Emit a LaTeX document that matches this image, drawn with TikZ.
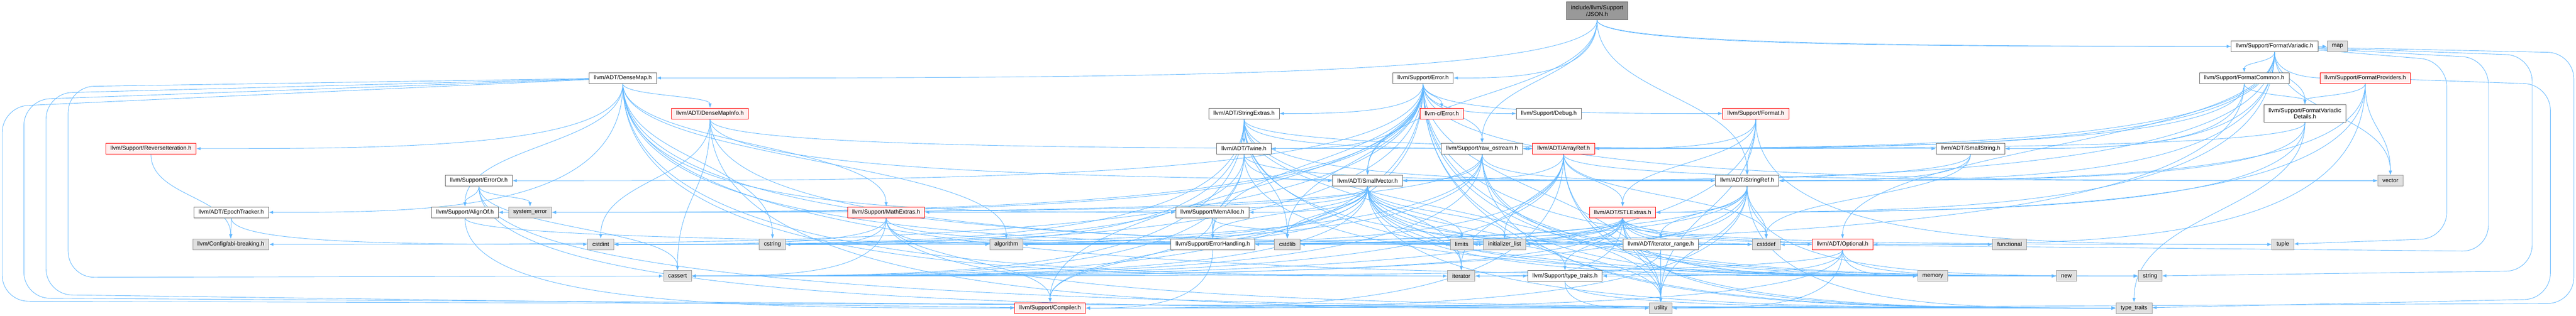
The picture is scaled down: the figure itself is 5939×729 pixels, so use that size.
\documentclass[tikz,border=0pt]{standalone}
\usepackage{fontspec}
\setmainfont{Liberation Sans}
\usepackage{tikz}
\usetikzlibrary{arrows.meta,calc,backgrounds}

\definecolor{edgeblue}{HTML}{63B8FF}
\definecolor{framegray}{HTML}{666666}
\definecolor{sysfill}{HTML}{E0E0E0}
\definecolor{sysframe}{HTML}{999999}
\definecolor{truncfill}{HTML}{FFF0F0}
\definecolor{rootfill}{HTML}{999999}

\tikzset{
  hdr/.style={rectangle, draw=framegray, fill=white, line width=0.8pt,
    font=\fontsize{10}{11}\selectfont, align=center,
    inner xsep=8pt, inner ysep=3pt, minimum height=18.75pt},
  sys/.style={hdr, draw=sysframe, fill=sysfill},
  trunc/.style={hdr, draw=red, fill=truncfill},
  root/.style={hdr, fill=rootfill, minimum height=30.75pt},
  twoline/.style={minimum height=30.75pt},
  % down and across: bottom to top, or into the side when the run is long
  dep/.style={to path={let \p1=(\tikztostart), \p2=(\tikztotarget),
    \n1={abs(\x2-\x1)>2.5*abs(\y2-\y1)},
    \n2={\n1*\y2+(1-\n1)*(0.5*\y1+0.5*\y2)},
    \n3={\x2+\n1*0.5*(\x1-\x2)} in
    (\tikztostart) .. controls (\x1,\n2) and (\n3,\n2) .. (\tikztotarget) \tikztonodes}},
  % round the outside of the graph
  wrap/.style n args={3}{rounded corners=45pt, to path={let \p3=(#1,#2), \p4=(#1,#3) in
    (\tikztostart) -- (\p3) -- (\p4) -- (\tikztotarget) \tikztonodes}},
}

\begin{document}
\begin{tikzpicture}[x=0.75pt, y=-0.75pt]
\useasboundingbox (0,0) rectangle (5939,729);

\node[root]  (json)       at (3682,25)  {include/llvm/Support\\/JSON.h};

\node[hdr]   (fmtvar)     at (5244,107) {llvm/Support/FormatVariadic.h};
\node[sys]   (map)        at (5389,107) {map};

\node[hdr]   (densemap)   at (1436,180) {llvm/ADT/DenseMap.h};
\node[hdr]   (error)      at (3281,180) {llvm/Support/Error.h};
\node[hdr]   (fmtcommon)  at (5174,180) {llvm/Support/FormatCommon.h};
\node[trunc] (fmtprov)    at (5453,180) {llvm/Support/FormatProviders.h};

\node[trunc] (dmi)        at (1637,262) {llvm/ADT/DenseMapInfo.h};
\node[hdr]   (strext)     at (2868,262) {llvm/ADT/StringExtras.h};
\node[trunc] (cerror)     at (3324,262) {llvm-c/Error.h};
\node[hdr]   (debug)      at (3571,262) {llvm/Support/Debug.h};
\node[trunc] (format)     at (4048,262) {llvm/Support/Format.h};
\node[hdr, twoline] (fmtdet) at (5314,262) {llvm/Support/FormatVariadic\\Details.h};

\node[trunc] (reviter)    at (348,343)  {llvm/Support/ReverseIteration.h};
\node[hdr]   (twine)      at (2868,343) {llvm/ADT/Twine.h};
\node[hdr]   (rawos)      at (3417,343) {llvm/Support/raw\_ostream.h};
\node[trunc] (arrayref)   at (3605,343) {llvm/ADT/ArrayRef.h};
\node[hdr]   (smallstr)   at (4543,343) {llvm/ADT/SmallString.h};

\node[hdr]   (erroror)    at (1104,417) {llvm/Support/ErrorOr.h};
\node[hdr]   (smallvec)   at (3153,417) {llvm/ADT/SmallVector.h};
\node[hdr]   (stringref)  at (4028,417) {llvm/ADT/StringRef.h};
\node[sys]   (vector)     at (5511,417) {vector};

\node[hdr]   (epoch)      at (533,490)  {llvm/ADT/EpochTracker.h};
\node[hdr]   (alignof)    at (1072,490) {llvm/Support/AlignOf.h};
\node[sys]   (syserr)     at (1222,490) {system\_error};
\node[trunc] (mathext)    at (2043,490) {llvm/Support/MathExtras.h};
\node[hdr]   (memalloc)   at (2795,490) {llvm/Support/MemAlloc.h};
\node[trunc] (stlext)     at (3741,490) {llvm/ADT/STLExtras.h};

\node[sys]   (abi)        at (532,564)  {llvm/Config/abi-breaking.h};
\node[sys]   (cstdint)    at (1385,564) {cstdint};
\node[sys]   (cstring)    at (1781,564) {cstring};
\node[sys]   (algorithm)  at (2320,564) {algorithm};
\node[hdr]   (errhand)    at (2796,564) {llvm/Support/ErrorHandling.h};
\node[sys]   (cstdlib)    at (2968,564) {cstdlib};
\node[sys]   (limits)     at (3370,564) {limits};
\node[sys]   (initlist)   at (3469,564) {initializer\_list};
\node[hdr]   (itrange)    at (3829,564) {llvm/ADT/iterator\_range.h};
\node[sys]   (cstddef)    at (4072,564) {cstddef};
\node[trunc] (optional)   at (4248,564) {llvm/ADT/Optional.h};
\node[sys]   (functional) at (4633,564) {functional};
\node[sys]   (tuple)      at (5263,564) {tuple};

\node[sys]   (cassert)    at (1562,637) {cassert};
\node[sys]   (iterator)   at (3369,637) {iterator};
\node[hdr]   (lltraits)   at (3608,637) {llvm/Support/type\_traits.h};
\node[sys]   (memory)     at (4456,637) {memory};
\node[sys]   (new)        at (4764,637) {new};
\node[sys]   (string)     at (4957,637) {string};

\node[trunc] (compiler)   at (2421,711) {llvm/Support/Compiler.h};
\node[sys]   (utility)    at (3829,711) {utility};
\node[sys]   (typetraits) at (4920,711) {type\_traits};

\begin{pgfonlayer}{background}
\draw[
    >={Latex[length=7.5pt,width=5.5pt]},
    every edge/.style={draw=edgeblue, line width=0.8pt, ->, dep},
    ]
  (json)      edge (densemap) edge (error) edge (fmtvar) edge (map)
              edge (rawos) edge (smallvec) edge (stringref)
  (fmtvar)    edge (arrayref) edge (optional) edge (stlext) edge (smallstr)
              edge (smallvec) edge (stringref) edge (fmtcommon) edge (fmtprov)
              edge (fmtdet) edge (rawos) edge (vector)
              edge[wrap={5737}{134}{580}] (cstddef)
              edge[wrap={5838}{128}{625}] (string)
              edge[wrap={5641}{140}{550}] (tuple)
              edge[wrap={5934}{122}{700}] (utility)
  (densemap)  edge (dmi) edge (epoch) edge (alignof) edge (mathext)
              edge (memalloc) edge (reviter) edge (lltraits) edge (algorithm)
              edge (cstddef) edge (cstring) edge (initlist) edge (iterator)
              edge (new)
              edge[wrap={157}{200}{640}] (cassert)
              edge[wrap={106}{215}{680}] (compiler)
              edge[wrap={55}{230}{688}] (utility)
              edge[wrap={5}{246}{695}] (typetraits)
  (error)     edge (cerror) edge (smallvec) edge (strext) edge (twine)
              edge (abi) edge (alignof) edge (compiler) edge (debug)
              edge (errhand) edge (erroror) edge (format) edge (rawos)
              edge (algorithm) edge (cassert) edge (cstdint) edge (cstdlib)
              edge (functional) edge (memory) edge (new) edge (string)
              edge (syserr) edge (typetraits) edge (utility) edge (vector)
  (fmtcommon) edge (smallstr) edge (fmtdet) edge (rawos) edge (algorithm)
  (fmtprov)   edge (optional) edge (stlext) edge (fmtdet) edge (stringref)
              edge (vector)
              edge[wrap={5880}{195}{690}] (typetraits)
  (dmi)       edge (arrayref) edge (stringref) edge (cassert) edge (cstddef)
              edge (cstdint) edge (utility)
  (strext)    edge (arrayref) edge (smallstr) edge (stringref) edge (twine)
              edge (cassert) edge (cstddef) edge (cstdint) edge (cstdlib)
              edge (cstring) edge (iterator) edge (string) edge (utility)
  (format)    edge (arrayref) edge (stlext) edge (stringref) edge (cassert)
              edge (tuple) edge (utility)
  (fmtdet)    edge (stlext) edge (stringref) edge (rawos) edge (typetraits)
  (reviter)   edge (abi)
  (twine)     edge (smallvec) edge (stringref) edge (errhand) edge (cassert)
              edge (cstdint) edge (string)
  (rawos)     edge (smallvec) edge (stringref) edge (cassert) edge (cstddef)
              edge (cstdint) edge (cstring) edge (string) edge (syserr)
              edge (typetraits)
  (arrayref)  edge (stlext) edge (smallvec) edge (compiler) edge (algorithm)
              edge (cassert) edge (cstddef) edge (initlist) edge (iterator)
              edge (memory) edge (typetraits) edge (vector)
  (smallstr)  edge (smallvec) edge (stringref) edge (cstddef)
  (erroror)   edge (alignof) edge (cassert) edge (syserr) edge (typetraits)
              edge (utility)
  (smallvec)  edge (itrange) edge (alignof) edge (compiler) edge (errhand)
              edge (mathext) edge (memalloc) edge (lltraits) edge (algorithm)
              edge (cassert) edge (cstddef) edge (cstdlib) edge (cstring)
              edge (initlist) edge (iterator) edge (limits) edge (memory)
              edge (new) edge (typetraits) edge (utility)
  (stringref) edge (stlext) edge (itrange) edge (compiler) edge (algorithm)
              edge (cassert) edge (cstddef) edge (cstring) edge (limits)
              edge (string) edge (typetraits) edge (utility)
  (epoch)     edge (abi) edge (cstdint)
  (alignof)   edge (compiler) edge (cstddef)
  (mathext)   edge (compiler) edge (algorithm) edge (cassert) edge (cstdint)
              edge (cstring) edge (limits) edge (typetraits)
  (memalloc)  edge (compiler) edge (errhand) edge (cstdlib)
  (stlext)    edge (optional) edge (itrange) edge (errhand) edge (lltraits)
              edge (algorithm) edge (cassert) edge (cstddef) edge (cstdint)
              edge (cstdlib) edge (functional) edge (initlist) edge (iterator)
              edge (limits) edge (memory) edge (tuple) edge (typetraits)
              edge (utility)
  (errhand)   edge (compiler)
  (itrange)   edge (iterator) edge (utility)
  (optional)  edge (compiler) edge (lltraits) edge (cassert) edge (memory)
              edge (new) edge (utility)
  (lltraits)  edge (typetraits) edge (utility);
\end{pgfonlayer}
\end{tikzpicture}
\end{document}
